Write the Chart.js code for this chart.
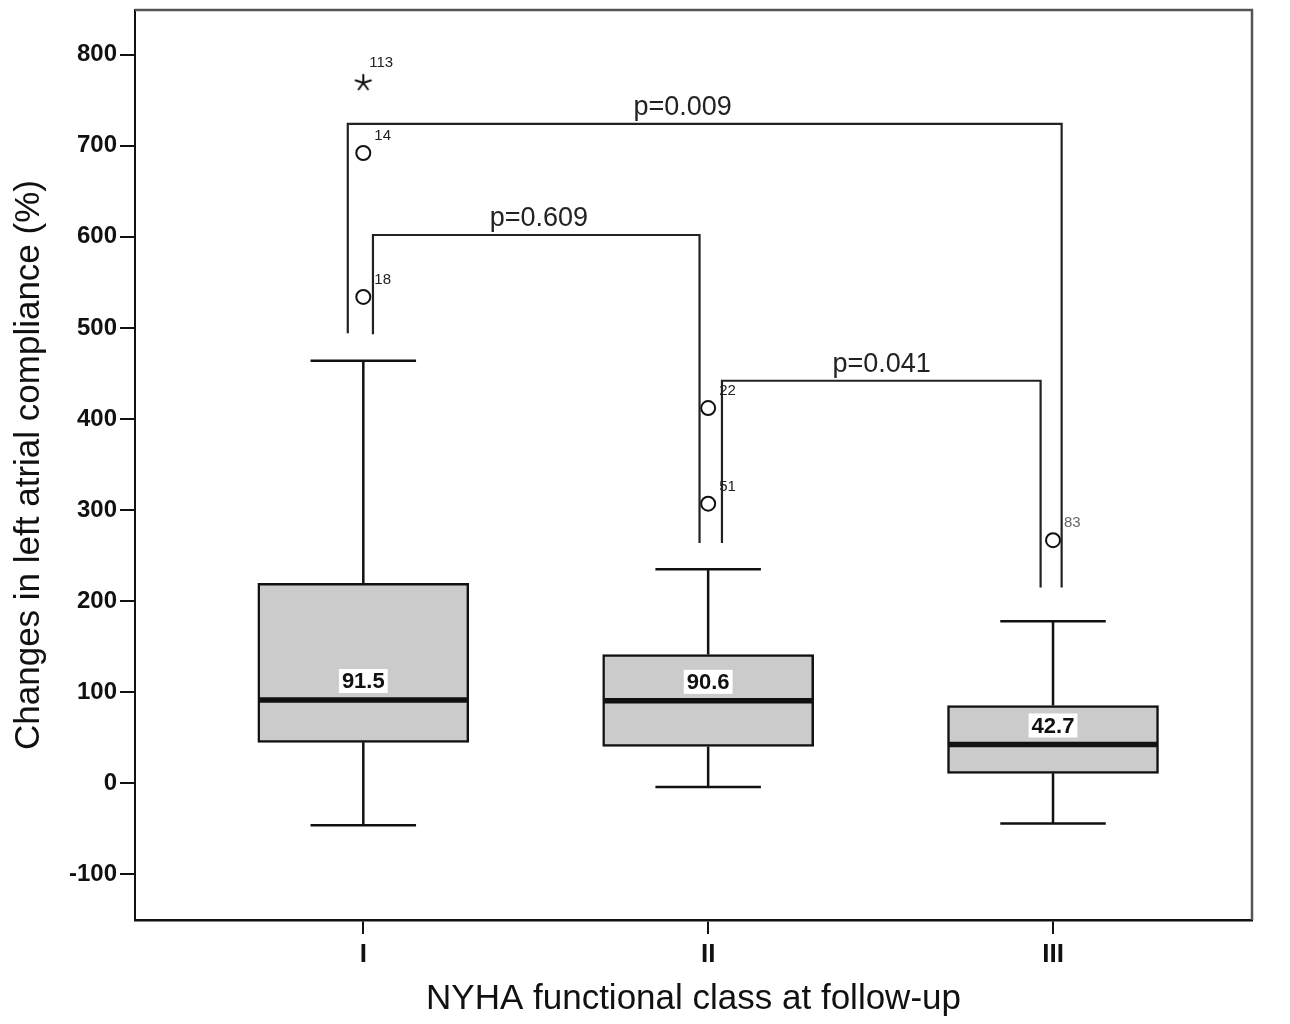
<!DOCTYPE html>
<html>
<head>
<meta charset="utf-8">
<script src="https://cdn.jsdelivr.net/npm/chart.js@4.4.1/dist/chart.umd.min.js"></script>
<style>
  html, body { margin: 0; padding: 0; background: #fff; }
  canvas { display: block; }
</style>
</head>
<body>
<canvas id="chart" width="1290" height="1024"></canvas>
<script>
// NYHA classes and their box plot summaries
var classes = ['I', 'II', 'III'];
var classPos = [1, 2, 3];
var q1 = [45, 40.6, 11];
var q3 = [219.5, 141.5, 85.5];
var medians = [91.5, 90.6, 42.7];
var whiskerLow = [-46, -4, -44];
var whiskerHigh = [464, 235, 178];

// outliers (circles) and extreme value (star)
var outlierPos = [1, 1, 2, 2, 3];
var outlierValues = [692, 534, 412, 307, 267];
var outlierIds = ['14', '18', '22', '51', '83'];
var extremePos = [1];
var extremeValues = [769];
var extremeIds = ['113'];

var yTicks = [-100, 0, 100, 200, 300, 400, 500, 600, 700, 800];

// significance brackets
var pLabels = ['p=0.009', 'p=0.609', 'p=0.041'];
var bracketLeft = [0.955, 1.028, 2.04];
var bracketRight = [3.025, 1.975, 2.964];
var bracketTop = [724, 602, 442];
var bracketLeftFoot = [494, 493, 264];
var bracketRightFoot = [215, 264, 215];
var pLabelPos = [1.926, 1.509, 2.503];

var FONT = '"Liberation Sans", Arial, sans-serif';

// five-armed asterisk used for the extreme value
function asteriskImage() {
    var c = document.createElement('canvas');
    c.width = 20; c.height = 20;
    var g = c.getContext('2d');
    g.strokeStyle = '#111';
    g.lineWidth = 2;
    g.lineCap = 'round';
    g.beginPath();
    for (var a = 0; a < 5; a++) {
        var ang = -Math.PI / 2 + a * 2 * Math.PI / 5;
        g.moveTo(10, 10);
        g.lineTo(10 + 8 * Math.cos(ang), 10 + 8 * Math.sin(ang));
    }
    g.stroke();
    return c;
}

var bracketSets = [];
for (var b = 0; b < pLabels.length; b++) {
    bracketSets.push({
        type: 'line',
        label: pLabels[b],
        data: [
            {x: bracketLeft[b], y: bracketLeftFoot[b]},
            {x: bracketLeft[b], y: bracketTop[b]},
            {x: bracketRight[b], y: bracketTop[b]},
            {x: bracketRight[b], y: bracketRightFoot[b]}
        ],
        borderColor: '#222',
        borderWidth: 2.2,
        pointRadius: 0,
        fill: false,
        tension: 0
    });
}

var boxExtras = {
    id: 'boxExtras',
    afterDatasetsDraw: function(chart) {
        var ctx = chart.ctx;
        var xs = chart.scales.x;
        var ys = chart.scales.y;
        var area = chart.chartArea;
        var boxMeta = chart.getDatasetMeta(0);
        ctx.save();

        // top and right frame
        ctx.strokeStyle = '#555';
        ctx.lineWidth = 2.5;
        ctx.beginPath();
        ctx.moveTo(area.left, area.top);
        ctx.lineTo(area.right, area.top);
        ctx.lineTo(area.right, area.bottom);
        ctx.stroke();

        for (var i = 0; i < classes.length; i++) {
            var el = boxMeta.data[i];
            var cx = el.x, w = el.width;
            var yHi = ys.getPixelForValue(whiskerHigh[i]);
            var yLo = ys.getPixelForValue(whiskerLow[i]);
            var yQ1 = ys.getPixelForValue(q1[i]);
            var yQ3 = ys.getPixelForValue(q3[i]);
            var yMed = ys.getPixelForValue(medians[i]);

            ctx.strokeStyle = '#111';
            ctx.lineWidth = 2.5;
            ctx.beginPath();
            ctx.moveTo(cx, yQ3); ctx.lineTo(cx, yHi);
            ctx.moveTo(cx, yQ1); ctx.lineTo(cx, yLo);
            ctx.moveTo(cx - w / 4, yHi); ctx.lineTo(cx + w / 4, yHi);
            ctx.moveTo(cx - w / 4, yLo); ctx.lineTo(cx + w / 4, yLo);
            ctx.stroke();

            ctx.lineWidth = 5.5;
            ctx.beginPath();
            ctx.moveTo(cx - w / 2 + 1, yMed); ctx.lineTo(cx + w / 2 - 1, yMed);
            ctx.stroke();

            // median label on white
            ctx.font = 'bold 22px ' + FONT;
            var txt = medians[i].toFixed(1);
            var tw = ctx.measureText(txt).width;
            var ty = yMed - 19;
            ctx.fillStyle = '#fff';
            ctx.fillRect(cx - tw / 2 - 3, ty - 12, tw + 6, 24);
            ctx.fillStyle = '#111';
            ctx.textAlign = 'center';
            ctx.textBaseline = 'middle';
            ctx.fillText(txt, cx, ty + 1);
        }

        // case numbers beside outliers
        ctx.font = '15px ' + FONT;
        ctx.textAlign = 'left';
        ctx.textBaseline = 'middle';
        for (var k = 0; k < outlierIds.length; k++) {
            ctx.fillStyle = outlierIds[k] === '83' ? '#666' : '#222';
            ctx.fillText(outlierIds[k], xs.getPixelForValue(outlierPos[k]) + 11, ys.getPixelForValue(outlierValues[k]) - 17);
        }
        ctx.fillStyle = '#222';
        for (var e = 0; e < extremeIds.length; e++) {
            ctx.fillText(extremeIds[e], xs.getPixelForValue(extremePos[e]) + 6, ys.getPixelForValue(extremeValues[e]) - 20);
        }

        // p-values above brackets
        ctx.font = '27px ' + FONT;
        ctx.textAlign = 'center';
        ctx.textBaseline = 'alphabetic';
        ctx.fillStyle = '#222';
        for (var p = 0; p < pLabels.length; p++) {
            ctx.fillText(pLabels[p], xs.getPixelForValue(pLabelPos[p]), ys.getPixelForValue(bracketTop[p]) - 9);
        }
        ctx.restore();
    }
};

var ctx = document.getElementById('chart').getContext('2d');
var chart = new Chart(ctx, {
    type: 'bar',
    data: {
        datasets: [{
            type: 'bar',
            label: 'IQR',
            data: classPos.map(function(x, i) { return {x: x, y: [q1[i], q3[i]]}; }),
            backgroundColor: '#cbcbcb',
            borderColor: '#111',
            borderWidth: 2.5,
            borderSkipped: false,
            barThickness: 211
        }].concat(bracketSets).concat([{
            type: 'scatter',
            label: 'outliers',
            data: outlierPos.map(function(x, i) { return {x: x, y: outlierValues[i]}; }),
            pointStyle: 'circle',
            pointRadius: 7,
            backgroundColor: '#fff',
            borderColor: '#111',
            borderWidth: 2
        }, {
            type: 'scatter',
            label: 'extremes',
            data: extremePos.map(function(x, i) { return {x: x, y: extremeValues[i]}; }),
            pointStyle: asteriskImage(),
            pointRadius: 9
        }])
    },
    options: {
        responsive: false,
        animation: false,
        devicePixelRatio: 1,
        layout: {padding: {top: 9, right: 38, left: 0, bottom: 0}},
        plugins: {legend: {display: false}, tooltip: {enabled: false}},
        scales: {
            x: {
                type: 'linear',
                offset: false,
                min: 0.338,
                max: 3.577,
                afterBuildTicks: function(s) { s.ticks = classPos.map(function(v) { return {value: v}; }); },
                afterFit: function(s) { s.height = 104; },
                ticks: {
                    callback: function(v, idx) { return classes[idx]; },
                    font: {family: FONT, size: 26, weight: 'bold'},
                    color: '#111',
                    padding: 5,
                    maxRotation: 0,
                    autoSkip: false
                },
                grid: {offset: false, drawOnChartArea: false, drawTicks: true, tickLength: 14, color: '#111', lineWidth: 2},
                border: {display: true, color: '#111', width: 2.5},
                title: {
                    display: true,
                    text: 'NYHA functional class at follow-up',
                    font: {family: FONT, size: 35},
                    color: '#111',
                    padding: {top: 0, bottom: 4}
                }
            },
            y: {
                type: 'linear',
                min: -150,
                max: 849,
                afterBuildTicks: function(s) { s.ticks = yTicks.map(function(v) { return {value: v}; }); },
                afterFit: function(s) { s.width = 135; s.paddingTop = 0; s.paddingBottom = 0; },
                ticks: {
                    font: {family: FONT, size: 24, weight: 'bold'},
                    color: '#111',
                    padding: 3
                },
                grid: {drawOnChartArea: false, drawTicks: true, tickLength: 15, color: '#111', lineWidth: 2},
                border: {display: true, color: '#111', width: 2},
                title: {
                    display: true,
                    text: 'Changes in left atrial compliance (%)',
                    font: {family: FONT, size: 35},
                    color: '#111',
                    padding: {top: 8, bottom: 0}
                }
            }
        }
    },
    plugins: [boxExtras]
});
</script>
</body>
</html>
